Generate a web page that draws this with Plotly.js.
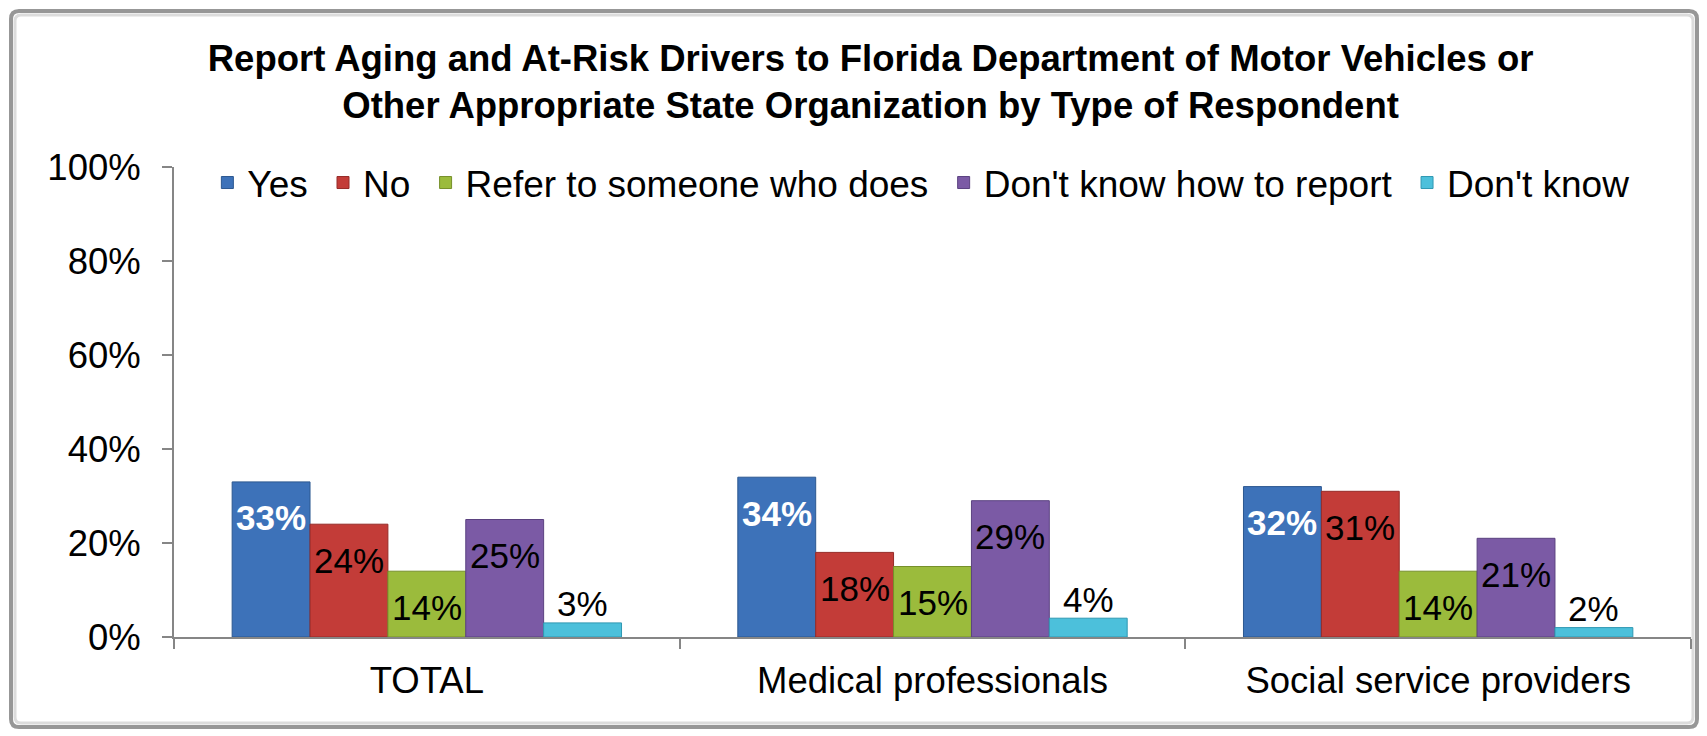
<!DOCTYPE html>
<html>
<head>
<meta charset="utf-8">
<script src="https://cdn.plot.ly/plotly-3.0.1.min.js"></script>
<style>
  html, body { margin: 0; padding: 0; background: #ffffff; }
  #chart { width: 1707px; height: 736px; }
</style>
</head>
<body>
<div id="chart"></div>
<script>
// ---- Data ----
const categories = ["TOTAL", "Medical professionals", "Social service providers"];
const seriesNames = ["Yes", "No", "Refer to someone who does", "Don't know how to report", "Don't know"];
const yesValues = [33, 34, 32];
const noValues = [24, 18, 31];
const referValues = [14, 15, 14];
const dontKnowHowValues = [25, 29, 21];
const dontKnowValues = [3, 4, 2];
const yTickValues = [0, 20, 40, 60, 80, 100];
const yTickLabels = ["0%", "20%", "40%", "60%", "80%", "100%"];
const titleText = "Report Aging and At-Risk Drivers to Florida Department of Motor Vehicles or<br>Other Appropriate State Organization by Type of Respondent";

// ---- Styles ----
const FONT = "Liberation Sans, Arial, Helvetica, sans-serif";
const fills = ["#3d72b9", "#c33c38", "#9bbb3c", "#7b5aa5", "#4cc0db"];
const edges = ["#2c5890", "#962b28", "#76902a", "#5b4280", "#2f98b2"];
const seriesValues = [yesValues, noValues, referValues, dontKnowHowValues, dontKnowValues];
const BARGAP = 0.23;
const NBSP = "\u00a0";

const traces = seriesValues.map((vals, i) => ({
  type: "bar",
  name: i < seriesNames.length - 1 ? seriesNames[i] + NBSP : seriesNames[i],
  x: categories,
  y: vals,
  marker: { color: fills[i], line: { color: edges[i], width: 1 } },
  hoverinfo: "x+y+name"
}));

// data labels placed on each bar through the axis scales (category serial numbers)
const nSeries = seriesValues.length;
const slot = (1 - BARGAP) / nSeries;
const annotations = [];
seriesValues.forEach((vals, i) => {
  vals.forEach((v, g) => {
    const outside = i === nSeries - 1;
    annotations.push({
      xref: "x", yref: "y",
      x: g + (i - (nSeries - 1) / 2) * slot,
      y: v,
      text: v + "%",
      showarrow: false,
      xanchor: "center", yanchor: "middle",
      yshift: outside ? 19 : -36,
      font: {
        family: FONT, size: 35,
        color: i === 0 ? "#ffffff" : "#000000",
        weight: i === 0 ? "bold" : "normal"
      }
    });
  });
});

// frame (paper coordinates derived from the plot box)
const L = 174, R = 1691, T = 167, B = 637;
const px = v => (v - L) / (R - L);
const py = v => (B - v) / (B - T);
function roundedRect(x0, y0, x1, y1, r) {
  const rx = r / (R - L), ry = r / (B - T);
  const X0 = px(x0), X1 = px(x1), Y0 = py(y0), Y1 = py(y1);
  return `M ${X0 + rx},${Y0} L ${X1 - rx},${Y0} Q ${X1},${Y0} ${X1},${Y0 - ry} ` +
         `L ${X1},${Y1 + ry} Q ${X1},${Y1} ${X1 - rx},${Y1} L ${X0 + rx},${Y1} ` +
         `Q ${X0},${Y1} ${X0},${Y1 + ry} L ${X0},${Y0 - ry} Q ${X0},${Y0} ${X0 + rx},${Y0} Z`;
}

const layout = {
  width: 1707,
  height: 736,
  paper_bgcolor: "#ffffff",
  plot_bgcolor: "#ffffff",
  margin: { l: L, r: 1707 - R, t: T, b: 736 - B, pad: 0 },
  font: { family: FONT, color: "#000000" },
  title: {
    text: titleText,
    font: { family: FONT, size: 36.5, weight: "bold", color: "#000000" },
    x: 0.51, xref: "container", xanchor: "center",
    y: 0.904, yref: "container", yanchor: "top"
  },
  barmode: "group",
  bargap: BARGAP,
  bargroupgap: 0,
  showlegend: true,
  legend: {
    orientation: "h",
    x: 0.022, xanchor: "left",
    y: 0.966, yanchor: "middle",
    font: { family: FONT, size: 37, color: "#000000" },
    bgcolor: "rgba(0,0,0,0)",
    traceorder: "normal"
  },
  xaxis: {
    type: "category",
    showline: true, linecolor: "#868686", linewidth: 2,
    ticks: "outside", tickson: "boundaries", ticklen: 10, tickcolor: "#868686", tickwidth: 2,
    tickfont: { family: FONT, size: 36.5, color: "#000000" },
    showgrid: false, zeroline: false,
    ticklabelstandoff: 10
  },
  yaxis: {
    range: [0, 100],
    tickvals: yTickValues,
    ticktext: yTickLabels,
    showline: true, linecolor: "#868686", linewidth: 2,
    ticks: "outside", ticklen: 10, tickcolor: "#868686", tickwidth: 2,
    tickfont: { family: FONT, size: 36.5, color: "#000000" },
    showgrid: false, zeroline: false,
    ticklabelstandoff: 14
  },
  annotations: annotations,
  shapes: [
    { type: "path", xref: "paper", yref: "paper", path: roundedRect(11, 11, 1697, 727, 8),
      line: { color: "#979797", width: 4 }, fillcolor: "rgba(0,0,0,0)", layer: "below" },
    { type: "path", xref: "paper", yref: "paper", path: roundedRect(15, 15, 1693, 723, 6),
      line: { color: "#dcdcdc", width: 3 }, fillcolor: "rgba(0,0,0,0)", layer: "below" }
  ]
};

Plotly.newPlot("chart", traces, layout, { displayModeBar: false, staticPlot: true });
</script>
</body>
</html>
